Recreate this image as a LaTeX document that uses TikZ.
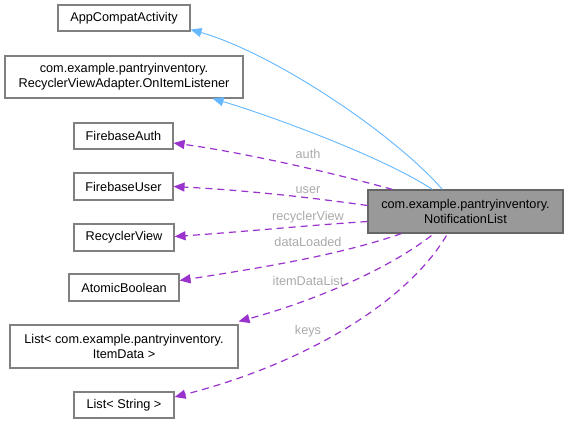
\documentclass[tikz,border=0pt]{standalone}
\usepackage{fontspec}
\setmainfont{Liberation Sans}
\usetikzlibrary{arrows.meta,calc}
\definecolor{genblue}{HTML}{63B8FF}
\definecolor{usepurple}{HTML}{9A32CD}
\definecolor{boxline}{HTML}{808080}
\definecolor{mainfill}{HTML}{999999}
\definecolor{mainline}{HTML}{666666}
\definecolor{lblgray}{HTML}{AAAAAA}
\begin{document}
\begin{tikzpicture}[x=1pt,y=-1pt,
  cls/.style={draw=boxline,line width=1.1pt,fill=white,inner sep=0pt,align=center,
    font=\fontsize{12.7}{15}\selectfont},
  mainbox/.style={cls,fill=mainfill,draw=mainline},
  genedge/.style={draw=genblue,line width=0.9pt,-{Triangle[length=11pt,width=9pt]}},
  useedge/.style={draw=usepurple,line width=1.2pt,dash pattern=on 7pt off 5pt,
    -{Triangle[length=11pt,width=9pt]}},
  lbl/.style={text=lblgray,inner sep=0pt,font=\fontsize{12.7}{15}\selectfont}]
\useasboundingbox (0,0) rectangle (568,424);
\fill[white] (0,0) rectangle (568,424);

\node[cls,minimum width=132pt,minimum height=26pt] (aca) at (124,18) {AppCompatActivity};
\node[cls,minimum width=238pt,minimum height=42pt] (oil) at (124,77)
  {com.example.pantryinventory.\\RecyclerViewAdapter.OnItemListener};
\node[cls,minimum width=99pt,minimum height=26pt] (fa) at (123.5,136) {FirebaseAuth};
\node[cls,minimum width=99pt,minimum height=27pt] (fu) at (123.5,186.5) {FirebaseUser};
\node[cls,minimum width=100pt,minimum height=27pt] (rv) at (124,237.5) {RecyclerView};
\node[cls,minimum width=110pt,minimum height=27pt] (ab) at (124,287.5) {AtomicBoolean};
\node[cls,minimum width=228pt,minimum height=43pt] (lid) at (124,346.5)
  {List< com.example.pantryinventory.\\ItemData >};
\node[cls,minimum width=100pt,minimum height=26pt] (ls) at (124,405) {List< String >};
\node[mainbox,minimum width=195pt,minimum height=43pt] (nl) at (465.5,211.5)
  {com.example.pantryinventory.\\NotificationList};

% generalization
\draw[genedge] ($(nl.north west)+(75,0)$) .. controls (390,130) and (270,52) .. ($(aca.south east)+(0,-2)$);
\draw[genedge] ($(nl.north west)+(65,0)$) .. controls (380,155) and (262,113) .. ($(oil.south east)+(-31,0)$);

% usage
\draw[useedge] ($(nl.north west)+(25,0)$) .. controls (330,172) and (240,152) .. ($(fa.east)+(0,7)$);
\draw[useedge] ($(nl.west)+(0,-6)$) .. controls (300,196) and (240,190) .. (fu.east);
\draw[useedge] ($(nl.west)+(0,10)$) .. controls (300,226) and (240,232) .. ($(rv.east)+(0,-1)$);
\draw[useedge] ($(nl.south west)+(34,0)$) .. controls (340,255) and (260,268) .. ($(ab.east)+(0,-7)$);
\draw[useedge] ($(nl.south west)+(64,2)$) .. controls (380,275) and (300,305) .. ($(lid.north east)+(0,-3)$);
\draw[useedge] ($(nl.south west)+(79,2)$) .. controls (405,305) and (300,365) .. ($(ls.east)+(0,-8)$);

\node[lbl] (lauth) at (308,154) {auth};
\node[lbl] (luser) at (308,190) {user};
\node[lbl] (lrv) at (308,217) {recyclerView};
\node[lbl] (ldl) at (308,242) {dataLoaded};
\node[lbl] (lidl) at (308,281) {itemDataList};
\node[lbl] (lkeys) at (308,331) {keys};
\end{tikzpicture}
\end{document}
